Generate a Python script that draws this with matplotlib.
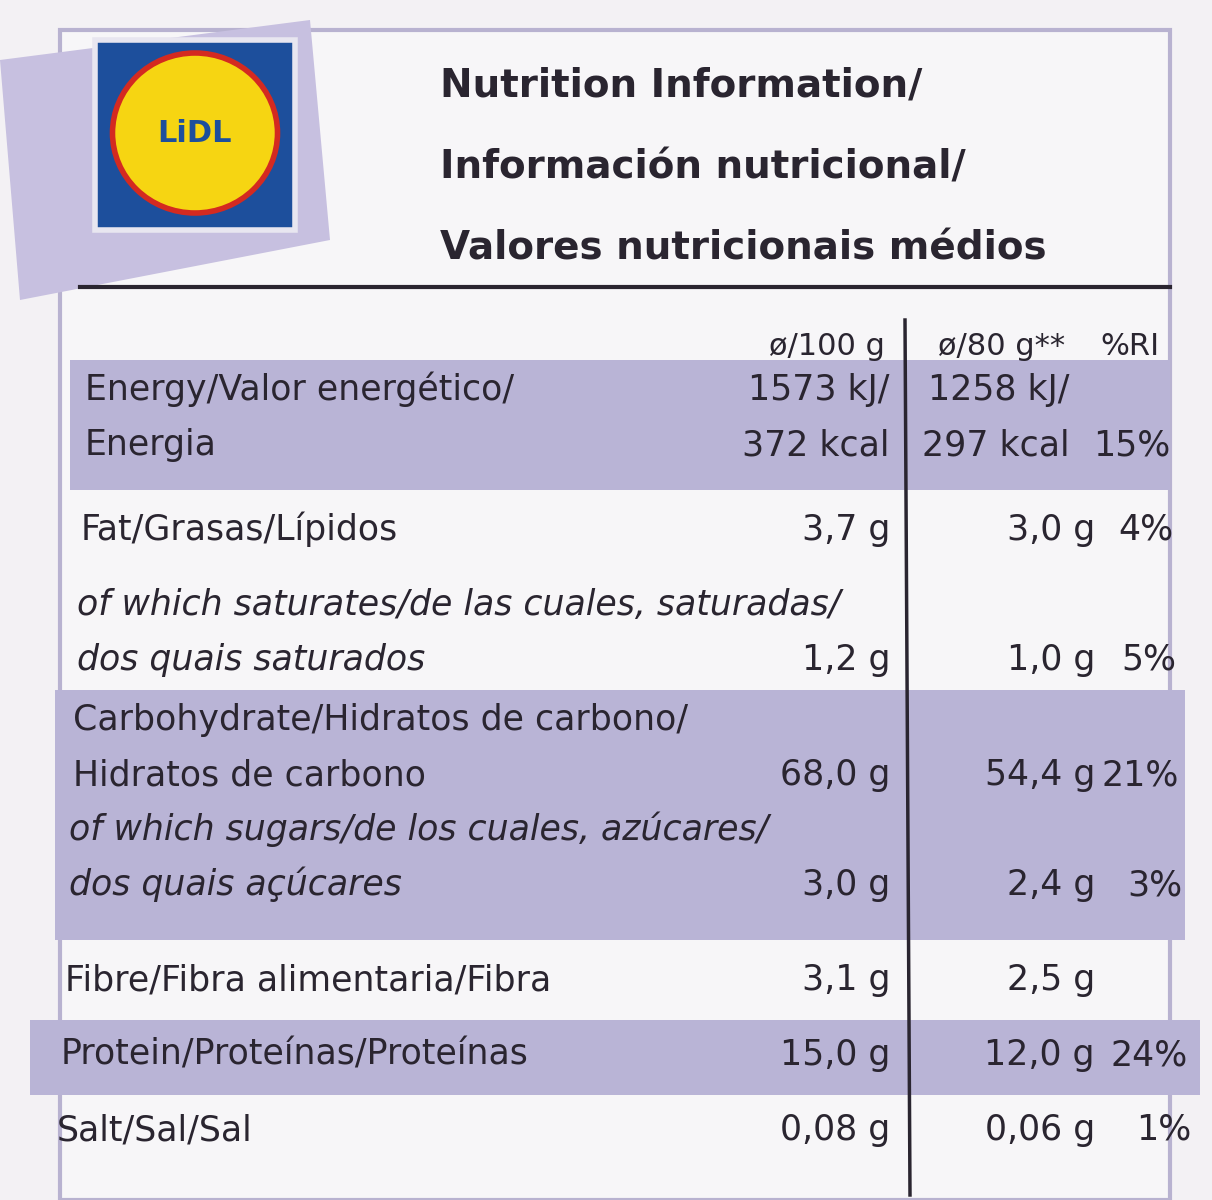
import matplotlib.pyplot as plt
import matplotlib.patches as mpatches
from matplotlib import font_manager

names = {f.name for f in font_manager.fontManager.ttflist}
FONT = "Liberation Sans Narrow" if "Liberation Sans Narrow" in names else "DejaVu Sans"
plt.rcParams["font.family"] = FONT

title_lines = ["Nutrition Information/", "Información nutricional/", "Valores nutricionais médios"]
col_heads = ["ø/100 g", "ø/80 g**", "%RI"]

# rows: label lines, per 100 g, per 80 g, %RI
row_labels = [
    ["Energy/Valor energético/", "Energia"],
    ["Fat/Grasas/Lípidos"],
    ["of which saturates/de las cuales, saturadas/", "dos quais saturados"],
    ["Carbohydrate/Hidratos de carbono/", "Hidratos de carbono"],
    ["of which sugars/de los cuales, azúcares/", "dos quais açúcares"],
    ["Fibre/Fibra alimentaria/Fibra"],
    ["Protein/Proteínas/Proteínas"],
    ["Salt/Sal/Sal"],
]
per100 = [["1573 kJ/", "372 kcal"], ["3,7 g"], ["1,2 g"], ["68,0 g"], ["3,0 g"], ["3,1 g"], ["15,0 g"], ["0,08 g"]]
per80 = [["1258 kJ/", "297 kcal"], ["3,0 g"], ["1,0 g"], ["54,4 g"], ["2,4 g"], ["2,5 g"], ["12,0 g"], ["0,06 g"]]
ri = ["15%", "4%", "5%", "21%", "3%", "", "24%", "1%"]
italic = [False, False, True, False, True, False, False, False]

# layout (pixel space)
row_top = [360, 500, 575, 690, 800, 950, 1025, 1100]
line_gap = 55

fig = plt.figure(figsize=(12.12, 12.0), dpi=100)
fig.patch.set_facecolor("#f3f1f4")
ax = fig.add_axes([0, 0, 1, 1])
ax.set_xlim(0, 1212)
ax.set_ylim(1200, 0)
ax.axis("off")

ink = "#2a2530"
shade = "#b9b4d6"
fs = 25

# panel
ax.add_patch(mpatches.Rectangle((60, 30), 1110, 1170, facecolor="#f7f6f8", edgecolor="#b8b2d0", lw=3))
# logo ribbon and logo
ax.add_patch(mpatches.Polygon([(0, 60), (310, 20), (330, 240), (20, 300)], closed=True, facecolor="#c7c0e0", edgecolor="none"))
ax.add_patch(mpatches.Rectangle((95, 40), 200, 190, facecolor="#1d4f9c", edgecolor="#e8e6f0", lw=4))
ax.add_patch(mpatches.Ellipse((195, 133), 165, 160, facecolor="#f6d512", edgecolor="#d42a20", lw=4))
ax.text(195, 133, "LiDL", ha="center", va="center", fontsize=22, fontweight="bold", color="#1d4f9c")

for i, t in enumerate(title_lines):
    ax.text(440, 85 + i * 82, t, fontsize=28, fontweight="bold", color=ink, va="center")
ax.plot([80, 1170], [287, 287], color=ink, lw=3)

# shaded bands
ax.add_patch(mpatches.Rectangle((70, 360), 1100, 130, facecolor=shade, edgecolor="none"))
ax.add_patch(mpatches.Rectangle((55, 690), 1130, 250, facecolor=shade, edgecolor="none"))
ax.add_patch(mpatches.Rectangle((30, 1020), 1170, 75, facecolor=shade, edgecolor="none"))

ax.plot([905, 910], [320, 1195], color=ink, lw=2.5)

hy = 355
ax.text(885, hy, col_heads[0], ha="right", fontsize=22, color=ink)
ax.text(1065, hy, col_heads[1], ha="right", fontsize=22, color=ink)
ax.text(1160, hy, col_heads[2], ha="right", fontsize=22, color=ink)

for i, lines in enumerate(row_labels):
    y0 = row_top[i] + 40
    style = "italic" if italic[i] else "normal"
    for j, t in enumerate(lines):
        ax.text(85 - i * 4, y0 + j * line_gap, t, fontsize=fs, color=ink, style=style, va="baseline")
    yv = y0 + (len(lines) - 1) * line_gap
    v1, v2 = per100[i], per80[i]
    for j, t in enumerate(v1):
        ax.text(890, yv - (len(v1) - 1 - j) * line_gap, t, ha="right", fontsize=fs, color=ink)
    for j, t in enumerate(v2):
        ax.text(1095 - (25 if len(v2) > 1 else 0), yv - (len(v2) - 1 - j) * line_gap, t, ha="right", fontsize=fs, color=ink)
    ax.text(1170 + i * 3, yv, ri[i], ha="right", fontsize=fs, color=ink)

fig.savefig("out.png", dpi=100, facecolor=fig.get_facecolor())
